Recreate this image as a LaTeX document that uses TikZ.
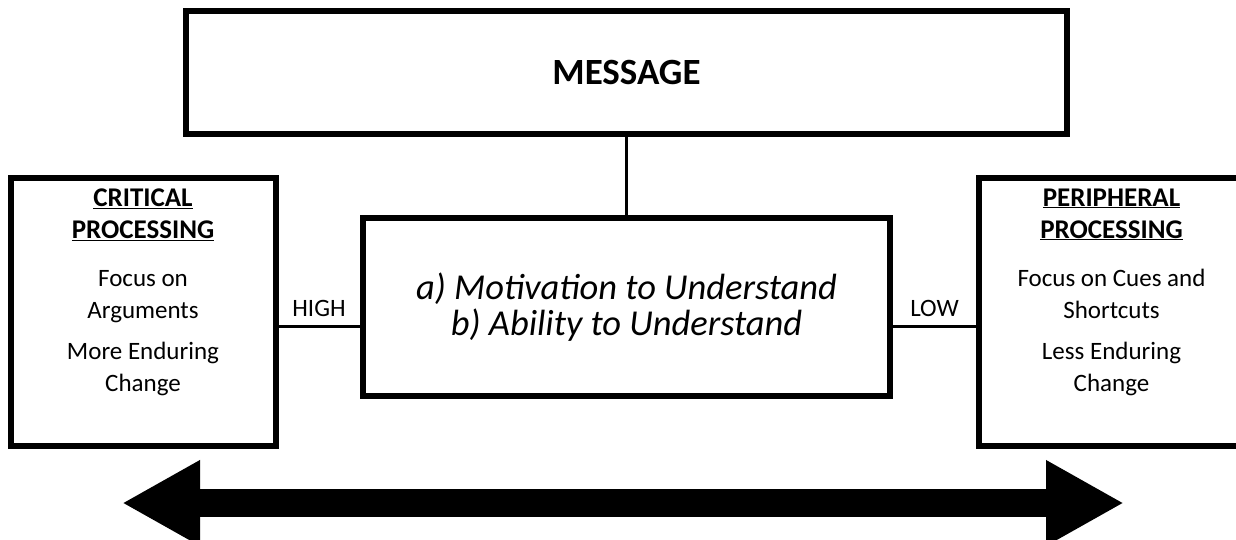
\documentclass[tikz,border=0pt]{standalone}
\usepackage{fontspec}
\setmainfont{Carlito}
\usepackage{tikz}
\usetikzlibrary{arrows.meta}
\newcommand{\headfont}{\fontsize{27}{32}\selectfont\bfseries}

\begin{document}
\begin{tikzpicture}[x=1pt,y=-1pt,
  box/.style={rectangle,draw,line width=6pt,inner sep=0pt},
  sidebox/.style={box,minimum width=265pt,minimum height=268pt,font=\fontsize{25}{32}\selectfont},
  link/.style={line width=2.8pt},
  lbl/.style={font=\fontsize{25}{30}\selectfont,inner xsep=0pt,inner ysep=9.5pt,anchor=south},
  bigarrow/.style={line width=28pt,{Triangle[length=78pt,width=80pt]}-{Triangle[length=78pt,width=80pt]}}]
\path [use as bounding box,clip] (0,0) rectangle (1236,539);

\node [box,minimum width=881pt,minimum height=123pt,font=\fontsize{37}{44}\selectfont\bfseries] (msg) at (626.5,72.5) {\raisebox{-2pt}{MESSAGE}};
\node [box,minimum width=527pt,minimum height=177.5pt,align=center,font=\fontsize{36.5}{36}\selectfont\itshape] (cond) at (626.5,307) {\raisebox{-2pt}{a) Motivation to Understand}\\\raisebox{-2pt}{b) Ability to Understand}};
\node [sidebox] (crit) at (143,311.5) {\begin{minipage}[c][246pt][t]{250pt}\centering
  {\headfont\underline{CRITICAL}\\\underline{PROCESSING}\\[16pt]}
  Focus on\\Arguments\\[9pt]
  More Enduring\\Change\end{minipage}};
\node [sidebox] (peri) at (1111.5,311.5) {\begin{minipage}[c][246pt][t]{250pt}\centering
  {\headfont\underline{PERIPHERAL}\\\underline{PROCESSING}\\[16pt]}
  Focus on Cues and\\Shortcuts\\[9pt]
  Less Enduring\\Change\end{minipage}};
\node [lbl] (high) at (319,326.5) {HIGH};
\node [lbl] (low) at (934.5,326.5) {LOW};
\coordinate (arrl) at (122,503);
\coordinate (arrr) at (1124,503);

\draw [link] (msg.south) -- (cond.north);
\draw [link] (crit.east |- high.south) -- (cond.west |- high.south);
\draw [link] (cond.east |- low.south) -- (peri.west |- low.south);
\draw [bigarrow] (arrl) -- (arrr);
\end{tikzpicture}
\end{document}
